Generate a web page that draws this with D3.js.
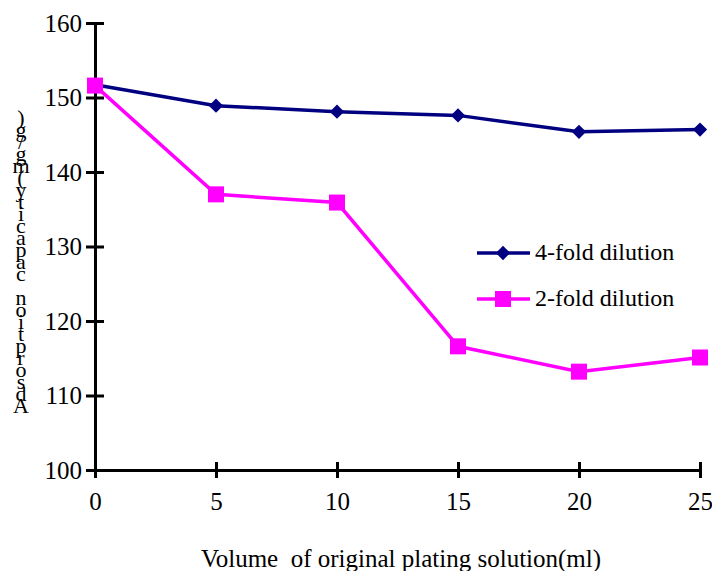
<!DOCTYPE html>
<html>
<head>
<meta charset="utf-8">
<script src="https://cdn.jsdelivr.net/npm/d3@7"></script>
<style>
  body { margin: 0; background: #fff; }
  text { font-family: "Liberation Serif", "Times New Roman", serif; fill: #000; }
</style>
</head>
<body>
<div id="chart"></div>
<script>
// chart data
const volumes = [0, 5, 10, 15, 20, 25];
const fourFold = [151.7, 148.9, 148.1, 147.6, 145.4, 145.7];
const twoFold = [151.6, 137.0, 135.9, 116.6, 113.2, 115.1];
const yTicks = [100, 110, 120, 130, 140, 150, 160];
const xTicks = [0, 5, 10, 15, 20, 25];
const seriesNames = ['4-fold dilution', '2-fold dilution'];
const yLabel = 'Adsorption capacity(mg/g)';
const xLabel = 'Volume  of original plating solution(ml)';

const width = 712, height = 571;
const serif = '"Liberation Serif", "Times New Roman", serif';
const svg = d3.select('#chart').append('svg')
    .attr('width', width)
    .attr('height', height);

const x = d3.scaleLinear().domain([0, 25]).range([95, 700]);
const y = d3.scaleLinear().domain([100, 160]).range([470, 23]);

// axes
const xAxis = svg.append('g')
    .attr('transform', `translate(0,${y(100)})`)
    .call(d3.axisBottom(x).tickValues(xTicks).tickSize(0).tickPadding(22));
xAxis.selectAll('.tick').append('line')
    .attr('y1', -8).attr('y2', 8)
    .attr('stroke', '#000').attr('stroke-width', 3);

const yAxis = svg.append('g')
    .attr('transform', `translate(${x(0)},0)`)
    .call(d3.axisLeft(y).tickValues(yTicks).tickSize(0).tickPadding(13));
yAxis.selectAll('.tick').append('line')
    .attr('x1', -9).attr('x2', 9)
    .attr('stroke', '#000').attr('stroke-width', 3);

[xAxis, yAxis].forEach(g => g.attr('font-size', 25).attr('font-family', serif));
svg.selectAll('.domain').attr('stroke', '#000').attr('stroke-width', 3);
svg.selectAll('.tick text').attr('fill', '#000');

// lines
const line = d3.line()
    .x((d, i) => x(volumes[i]))
    .y(d => y(d));

svg.append('path').datum(fourFold)
    .attr('fill', 'none').attr('stroke', '#000080').attr('stroke-width', 3.5)
    .attr('d', line);
svg.append('path').datum(twoFold)
    .attr('fill', 'none').attr('stroke', '#ff00ff').attr('stroke-width', 3.5)
    .attr('d', line);

const diamond = d3.symbol().type(d3.symbolDiamond2).size(130);
svg.selectAll('.dia').data(fourFold).join('path')
    .attr('transform', (d, i) => `translate(${x(volumes[i])},${y(d)})`)
    .attr('d', diamond)
    .attr('fill', '#000080');

svg.selectAll('.sq').data(twoFold).join('rect')
    .attr('x', (d, i) => x(volumes[i]) - 8)
    .attr('y', d => y(d) - 8)
    .attr('width', 16).attr('height', 16)
    .attr('fill', '#ff00ff');

// legend
const legend = svg.append('g');
const legendColors = ['#000080', '#ff00ff'];
seriesNames.forEach((name, i) => {
    const ly = 253 + i * 46;
    legend.append('line')
        .attr('x1', 477).attr('x2', 530).attr('y1', ly).attr('y2', ly)
        .attr('stroke', legendColors[i]).attr('stroke-width', 3.5);
    if (i === 0) {
        legend.append('path')
            .attr('transform', `translate(503,${ly})`)
            .attr('d', diamond).attr('fill', legendColors[i]);
    } else {
        legend.append('rect')
            .attr('x', 495).attr('y', ly - 8).attr('width', 16).attr('height', 16)
            .attr('fill', legendColors[i]);
    }
    legend.append('text')
        .attr('x', 535).attr('y', ly + 7)
        .style('font-size', '24px')
        .text(name);
});

// x label
svg.append('text')
    .attr('x', 401).attr('y', 567)
    .attr('text-anchor', 'middle')
    .style('font-size', '25px')
    .style('white-space', 'pre')
    .text(xLabel);

// y label: characters stacked upright, bottom to top
const chars = yLabel.split('');
svg.append('g').selectAll('text').data(chars).join('text')
    .attr('x', 21)
    .attr('y', (d, i) => 413 - i * 12)
    .attr('text-anchor', 'middle')
    .style('font-size', '22px')
    .text(d => d);
</script>
</body>
</html>
